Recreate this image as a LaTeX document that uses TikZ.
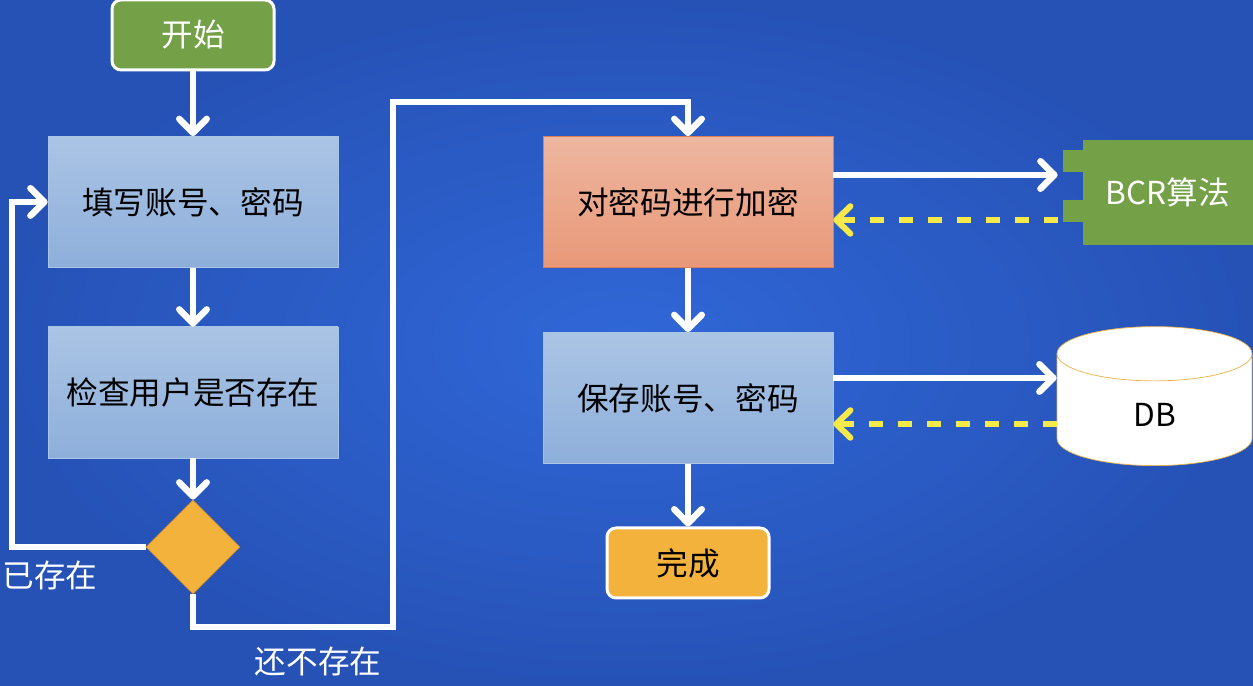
\documentclass[tikz,border=0pt]{standalone}
\usepackage{fontspec}
\setmainfont{Noto Sans CJK SC}
\usepackage{tikz}
\definecolor{bgblue}{HTML}{3067D8}
\definecolor{bgdark}{HTML}{2652B6}
\definecolor{paleblue}{HTML}{AAC4E4}
\definecolor{midblue}{HTML}{8EAFDB}
\definecolor{saltop}{HTML}{EEB6A0}
\definecolor{salbot}{HTML}{E89878}
\definecolor{salline}{HTML}{E07E55}
\definecolor{leafgreen}{HTML}{74A047}
\definecolor{amber}{HTML}{F3B23C}
\definecolor{amberline}{HTML}{C98B2B}
\definecolor{dashyellow}{HTML}{F6EA4A}
\definecolor{dbline}{HTML}{E9B447}
\usetikzlibrary{positioning, arrows, arrows.meta, shapes, shapes.geometric}
\tikzstyle{flow} = [white, line width=0.13cm, -{Straight Barb[length=0.28cm,width=0.55cm,line cap=round,line join=round]}]
\tikzstyle{reply} = [dashyellow, line width=0.12cm, dash pattern=on 0.28cm off 0.3cm, -{Straight Barb[length=0.28cm,width=0.55cm,line cap=round,line join=round]}]

\begin{document}
\begin{tikzpicture}
                \tikzstyle{every node}=[font=\fontsize{18}{20}\selectfont]
                \tikzstyle{terminal} = [rectangle, rounded corners=0.18cm, draw=white, line width=0.06cm, minimum width=3.24cm, minimum height=1.4cm]
                \tikzstyle{stepbox} = [rectangle, draw=paleblue, top color=paleblue, bottom color=midblue, minimum width=5.8cm, minimum height=2.62cm]
                \tikzstyle{decision} = [diamond, fill=amber, draw=amberline, minimum width=1.88cm, minimum height=1.88cm, inner sep=0pt]
                \tikzstyle{tab} = [rectangle, fill=leafgreen, minimum size=0.44cm, inner sep=0pt]
                \tikzstyle{module} = [rectangle, fill=leafgreen, text=white, minimum width=3.4cm, minimum height=2.1cm]
                \tikzstyle{store} = [cylinder, shape border rotate=90, aspect=1, draw=dbline, fill=white, minimum width=3.9cm, minimum height=2.78cm, font=\fontsize{18}{20}\selectfont]
                \tikzstyle{note} = [text=white]

                \useasboundingbox (0,0) rectangle (25.06,13.72);
                \shade[inner color=bgblue, outer color=bgdark] (0,0) rectangle (25.06,13.72);

                % left column
                \node[terminal, fill=leafgreen, text=white](start) at (3.86,13.02) {开始};
                \node[stepbox](fill) at (3.86,9.68) {填写账号、密码};
                \node[stepbox](check) at (3.86,5.87) {检查用户是否存在};
                \node[decision](dia) at (3.86,2.78) {};

                % right column
                \node[stepbox, top color=saltop, bottom color=salbot, draw=salline](enc) at (13.76,9.68) {对密码进行加密};
                \node[stepbox](save) at (13.76,5.76) {保存账号、密码};
                \node[terminal, fill=amber](done) at (13.76,2.46) {完成};

                % algorithm and database
                \node[tab](tabA) at (21.48,10.5) {};
                \node[tab](tabB) at (21.48,9.5) {};
                \node[module](bcr) at (23.36,9.87) {BCR算法};
                \node[store](db) at (23.09,5.43) {DB};

                \draw[flow] (start) -- (fill);
                \draw[flow] (fill) -- (check);
                \draw[flow] (check) -- (dia);
                \draw[flow] (enc) -- (save);
                \draw[flow] (save) -- (done);

                % already exists: back to the form
                \coordinate (back) at (0.24,2.78);
                \draw[flow] (dia.west) -- (back) |- (fill.west);
                \node[note](exists) at (1.0,2.22) {已存在};

                % does not exist yet: go on
                \coordinate (low) at (7.86,1.18);
                \coordinate (high) at (7.86,11.68);
                \draw[flow] (dia.south) |- (low) -- (high) -| (enc.north);
                \node[note](absent) at (6.36,0.48) {还不存在};

                \draw[flow, shorten >=0.1cm] ([yshift=0.54cm]enc.east) -- ([yshift=0.54cm]enc.east -| tabA.west);
                \draw[reply, shorten <=0.1cm] ([yshift=-0.36cm]enc.east -| tabB.west) -- ([yshift=-0.36cm]enc.east);
                \draw[flow] ([yshift=0.40cm]save.east) -- ([yshift=0.40cm]save.east -| db.west);
                \draw[reply] ([yshift=-0.52cm]save.east -| db.west) -- ([yshift=-0.52cm]save.east);

        \end{tikzpicture}
\end{document}
